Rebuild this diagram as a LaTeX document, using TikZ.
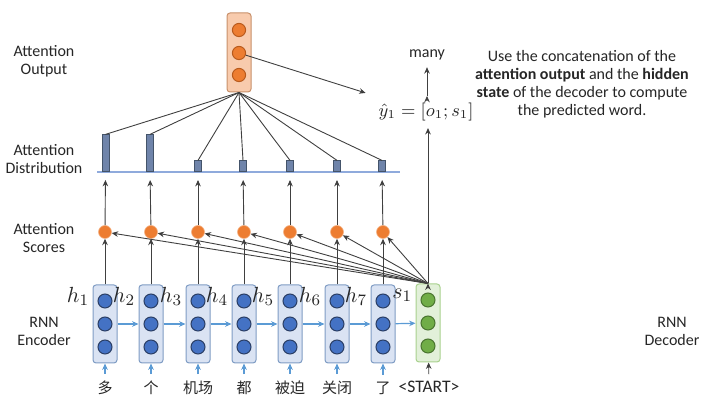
\documentclass[tikz,border=0pt]{standalone}
\usepackage{amsmath,amssymb}
\usepackage{fontspec}
\setmainfont{Carlito}
\newfontfamily\cjk{Noto Sans CJK SC}
\usepackage{tikz}
\usetikzlibrary{calc,shapes,positioning}
\usetikzlibrary{arrows.meta}
\tikzset{>={Stealth[width=2.8pt,length=3.2pt]}}
\definecolor{encfill}{HTML}{DAE3F3}
\definecolor{encdraw}{HTML}{7F9CC4}
\definecolor{enccirc}{HTML}{4472C4}
\definecolor{enccircdraw}{HTML}{2B3F66}
\definecolor{decfill}{HTML}{E2F0D9}
\definecolor{decdraw}{HTML}{A9D18E}
\definecolor{deccirc}{HTML}{70AD47}
\definecolor{deccircdraw}{HTML}{4A7530}
\definecolor{outfill}{HTML}{F8CBAD}
\definecolor{outdraw}{HTML}{C8906A}
\definecolor{outcirc}{HTML}{ED7D31}
\definecolor{outcircdraw}{HTML}{B85A1C}
\definecolor{barfill}{HTML}{6F84AA}
\definecolor{bardraw}{HTML}{44546A}
\definecolor{linecol}{HTML}{8FAADC}
\definecolor{arrcol}{HTML}{404040}
\definecolor{bluearr}{HTML}{5B9BD5}
\definecolor{textcol}{HTML}{262626}

\begin{document}
\begin{tikzpicture}[x=0.5pt,y=-0.5pt]
      \useasboundingbox (0,0) rectangle (708,410);
        \tikzstyle{ebox} = [draw=encdraw, fill=encfill, rounded corners=1.5pt, minimum width=12pt, minimum height=39pt, inner sep=0pt, line width=0.5pt]
        \tikzstyle{dbox} = [ebox, draw=decdraw, fill=decfill]
        \tikzstyle{obox} = [ebox, draw=outdraw, fill=outfill, minimum height=39.5pt]
        \tikzstyle{ecnode} = [circle, draw=enccircdraw, fill=enccirc, minimum size=7pt, inner sep=0pt, line width=0.5pt]
        \tikzstyle{dcnode} = [ecnode, draw=deccircdraw, fill=deccirc]
        \tikzstyle{ocnode} = [ecnode, draw=outcircdraw, fill=outcirc, minimum size=6.6pt]
        \tikzstyle{snode} = [circle, fill=outcirc, draw=outcirc!60, minimum size=6.5pt, inner sep=0pt, line width=0.3pt]
        \tikzstyle{bnode} = [fill=barfill, draw=bardraw, line width=0.3pt, minimum width=3.5pt, inner sep=0pt, anchor=south]
        \tikzstyle{lnode} = [text=textcol, font=\fontsize{8}{9}\selectfont, align=center]
        \tikzstyle{wnode} = [text=textcol, font=\cjk\fontsize{7.5}{9}\selectfont]
        \tikzstyle{hnode} = [text=textcol, font=\fontsize{11}{12}\selectfont, inner sep=0pt, anchor=east]
        \tikzstyle{garrow} = [->, draw=arrcol, line width=0.45pt]
        \tikzstyle{barrow} = [->, draw=bluearr, line width=0.6pt]

        % side labels
        \node[lnode] (lout) at (44,61) {Attention\\Output};
        \node[lnode] (ldist) at (44,159) {Attention\\Distribution};
        \node[lnode] (lscore) at (44,238) {Attention\\Scores};
        \node[lnode] (lenc) at (44,331) {RNN\\Encoder};
        \node[lnode] (ldec) at (672,331) {RNN\\Decoder};

        % encoder and decoder
        \node[ebox] (e1) at (105,324) {};
        \node[ebox] (e2) at (151,324) {};
        \node[ebox] (e3) at (198,324) {};
        \node[ebox] (e4) at (244,324) {};
        \node[ebox] (e5) at (290,324) {};
        \node[ebox] (e6) at (337,324) {};
        \node[ebox] (e7) at (383,324) {};
        \node[dbox] (d) at (428,323) {};
        \foreach \b in {e1,e2,e3,e4,e5,e6,e7} {
          \node[ecnode] (\b-1) at ($(\b)+(0,-23)$) {};
          \node[ecnode] (\b-2) at (\b) {};
          \node[ecnode] (\b-3) at ($(\b)+(0,23)$) {};
        }
        \node[dcnode] (d-1) at ($(d)+(0,-23)$) {};
        \node[dcnode] (d-2) at (d) {};
        \node[dcnode] (d-3) at ($(d)+(0,23)$) {};

        \node[hnode] (h1) at ($(e1.north west)+(-3,12)$) {$h_1$};
        \node[hnode] (h2) at ($(e2.north west)+(-3,12)$) {$h_2$};
        \node[hnode] (h3) at ($(e3.north west)+(-3,12)$) {$h_3$};
        \node[hnode] (h4) at ($(e4.north west)+(-3,12)$) {$h_4$};
        \node[hnode] (h5) at ($(e5.north west)+(-3,12)$) {$h_5$};
        \node[hnode] (h6) at ($(e6.north west)+(-3,12)$) {$h_6$};
        \node[hnode] (h7) at ($(e7.north west)+(-3,12)$) {$h_7$};
        \node[hnode] (s1) at ($(d.north west)+(-3,12)$) {$s_1$};

        % input words
        \node[wnode] (w1) at (105,388) {多};
        \node[wnode] (w2) at (151,388) {个};
        \node[wnode] (w3) at (198,388) {机场};
        \node[wnode] (w4) at (244,388) {都};
        \node[wnode] (w5) at (290,388) {被迫};
        \node[wnode] (w6) at (337,388) {关闭};
        \node[wnode] (w7) at (383,388) {了};
        \node[lnode, font=\fontsize{8.8}{10}\selectfont] (w8) at (429,387) {<START>};

        % attention scores
        \node[snode] (a1) at (105,232) {};
        \node[snode] (a2) at (151,232) {};
        \node[snode] (a3) at (198,232) {};
        \node[snode] (a4) at (244,232) {};
        \node[snode] (a5) at (290,232) {};
        \node[snode] (a6) at (337,232) {};
        \node[snode] (a7) at (383,232) {};

        % attention distribution
        \coordinate (bl) at (97,172);
        \coordinate (br) at (400,172);
        \draw[draw=linecol, line width=0.6pt] (bl) -- (br);
        \node[bnode, minimum height=18.5pt] (b1) at (105.5,172) {};
        \node[bnode, minimum height=18.5pt] (b2) at (150,172) {};
        \node[bnode, minimum height=5.5pt] (b3) at (198,172) {};
        \node[bnode, minimum height=5.5pt] (b4) at (243,172) {};
        \node[bnode, minimum height=5.5pt] (b5) at (290,172) {};
        \node[bnode, minimum height=5.5pt] (b6) at (337,172) {};
        \node[bnode, minimum height=5.5pt] (b7) at (382,172) {};

        % attention output
        \node[obox] (o) at (239,52.5) {};
        \node[ocnode] (o-1) at ($(o)+(0,-22.5)$) {};
        \node[ocnode] (o-2) at ($(o)+(0,0.5)$) {};
        \node[ocnode] (o-3) at ($(o)+(0,22.5)$) {};

        \node[text=textcol, font=\fontsize{9}{11}\selectfont] (yhat) at (426,112) {$\hat{y}_1=[o_1;s_1]$};
        \node[lnode] (many) at (427,55) {many};
        \node[lnode] (note) at (582,84) {Use the concatenation of the\\\textbf{attention output} and the \textbf{hidden}\\\textbf{state} of the decoder to compute\\the predicted word.};

        \path[barrow]
        (w1) edge (e1) (w2) edge (e2) (w3) edge (e3) (w4) edge (e4)
        (w5) edge (e5) (w6) edge (e6) (w7) edge (e7)
        (e1) edge (e2) (e2) edge (e3) (e3) edge (e4) (e4) edge (e5)
        (e5) edge (e6) (e6) edge (e7) (e7) edge (d)
        ;
        \path[garrow]
        (w8) edge (d)
        (e1) edge (a1) (e2) edge (a2) (e3) edge (a3) (e4) edge (a4)
        (e5) edge (a5) (e6) edge (a6) (e7) edge (a7)
        (d.north) edge (a1) (d.north) edge (a2) (d.north) edge (a3) (d.north) edge (a4)
        (d.north) edge (a5) (d.north) edge (a6) (d.north) edge (a7)
        ;
        \path[garrow, shorten >=4pt]
        (a1) edge (b1.south) (a2) edge (b2.south) (a3) edge (b3.south) (a4) edge (b4.south)
        (a5) edge (b5.south) (a6) edge (b6.south) (a7) edge (b7.south)
        ;
        \path[draw=arrcol, line width=0.45pt]
        (b1.north) edge (o.south) (b2.north) edge (o.south) (b3.north) edge (o.south)
        (b4.north) edge (o.south) (b5.north) edge (o.south) (b6.north) edge (o.south)
        (b7.north) edge (o.south)
        ;
        \path[garrow]
        (o-2) edge[shorten >=5pt] (yhat)
        (d.north) edge (d.north |- yhat.south)
        (yhat.north -| many) edge (many.south)
        ;
    \end{tikzpicture}
\end{document}
